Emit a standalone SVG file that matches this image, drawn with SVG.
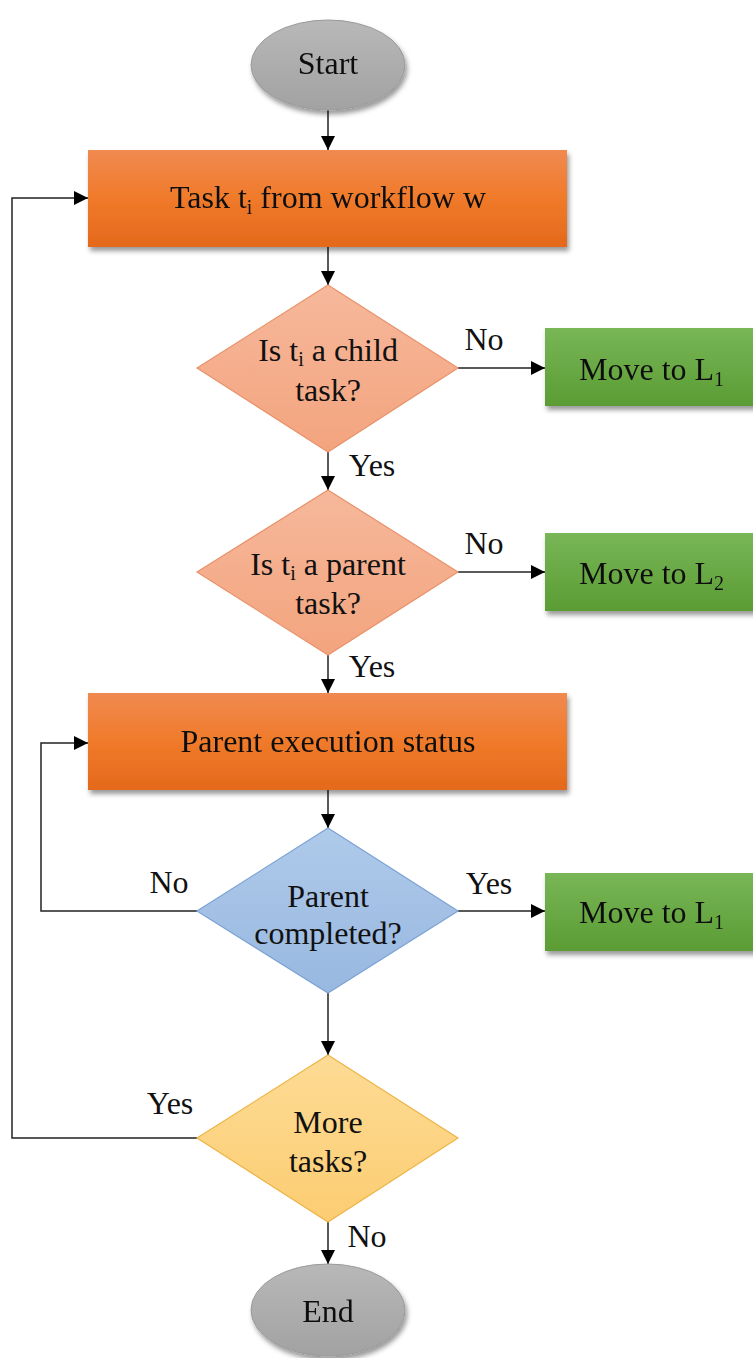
<svg xmlns="http://www.w3.org/2000/svg" width="753" height="1358" viewBox="0 0 753 1358">
  <style>
    text { font-family: "Liberation Serif", "DejaVu Serif", "Times New Roman", Times, serif; font-size: 32px; fill: #111; }
    .c { text-anchor: middle; }
    .sub { font-size: 20px; }
    .wire { fill: none; stroke: #222; stroke-width: 1.5; }
    .arr { marker-end: url(#head); }
  </style>
  <defs>
    <marker id="head" markerUnits="userSpaceOnUse" markerWidth="15" markerHeight="14" refX="14" refY="7" orient="auto">
      <path d="M0,0 L14,7 L0,14 z" fill="#000"/>
    </marker>
    <filter id="shadow" x="-10%" y="-10%" width="125%" height="135%">
      <feDropShadow dx="2" dy="4" stdDeviation="2.5" flood-color="#000" flood-opacity="0.4"/>
    </filter>
    <linearGradient id="gOrange" x1="0" y1="0" x2="0" y2="1">
      <stop offset="0" stop-color="#F08A50"/>
      <stop offset="0.5" stop-color="#F07A2A"/>
      <stop offset="1" stop-color="#E4691C"/>
    </linearGradient>
    <linearGradient id="gGreen" x1="0" y1="0" x2="0" y2="1">
      <stop offset="0" stop-color="#78B656"/>
      <stop offset="1" stop-color="#5B9C34"/>
    </linearGradient>
    <linearGradient id="gGray" x1="0" y1="0" x2="0" y2="1">
      <stop offset="0" stop-color="#B8B8B8"/>
      <stop offset="1" stop-color="#A2A2A2"/>
    </linearGradient>
    <linearGradient id="gSalmon" x1="0" y1="0" x2="0" y2="1">
      <stop offset="0" stop-color="#F6B89B"/>
      <stop offset="1" stop-color="#F3A47E"/>
    </linearGradient>
    <linearGradient id="gBlue" x1="0" y1="0" x2="0" y2="1">
      <stop offset="0" stop-color="#AFCAEA"/>
      <stop offset="1" stop-color="#98B8E0"/>
    </linearGradient>
    <linearGradient id="gYellow" x1="0" y1="0" x2="0" y2="1">
      <stop offset="0" stop-color="#FDDB95"/>
      <stop offset="1" stop-color="#FCCD72"/>
    </linearGradient>
  </defs>

  <rect width="753" height="1358" fill="#fff"/>

  <!-- connectors -->
  <g id="connectors">
    <line class="wire arr" x1="328" y1="110" x2="328" y2="150"/>
    <line class="wire arr" x1="328" y1="247" x2="328" y2="285"/>
    <line class="wire arr" x1="458" y1="368" x2="545" y2="368"/>
    <line class="wire arr" x1="328" y1="452" x2="328" y2="490"/>
    <line class="wire arr" x1="458" y1="572" x2="545" y2="572"/>
    <line class="wire arr" x1="328" y1="655" x2="328" y2="693"/>
    <line class="wire arr" x1="328" y1="790" x2="328" y2="828"/>
    <line class="wire arr" x1="458" y1="911" x2="545" y2="911"/>
    <polyline class="wire arr" points="197,911 41,911 41,743 88,743"/>
    <line class="wire arr" x1="328" y1="993" x2="328" y2="1055"/>
    <polyline class="wire arr" points="197,1138 12,1138 12,198 88,198"/>
    <line class="wire arr" x1="328" y1="1222" x2="328" y2="1264"/>
    <text x="484" y="350" class="c">No</text>
    <text x="372" y="476" class="c">Yes</text>
    <text x="484" y="554" class="c">No</text>
    <text x="372" y="677" class="c">Yes</text>
    <text x="169" y="893" class="c">No</text>
    <text x="489" y="894" class="c">Yes</text>
    <text x="170" y="1114" class="c">Yes</text>
    <text x="367" y="1247" class="c">No</text>
  </g>

  <!-- terminals -->
  <g id="start" filter="url(#shadow)">
    <ellipse cx="328" cy="65" rx="77" ry="45" fill="url(#gGray)" stroke="#9A9A9A" stroke-width="1"/>
    <text x="328" y="74" class="c">Start</text>
  </g>
  <g id="end" filter="url(#shadow)">
    <ellipse cx="328" cy="1310" rx="77" ry="46" fill="url(#gGray)" stroke="#9A9A9A" stroke-width="1"/>
    <text x="328" y="1322" class="c">End</text>
  </g>

  <!-- process boxes -->
  <g id="task" filter="url(#shadow)">
    <rect x="88" y="150" width="479" height="97" fill="url(#gOrange)"/>
    <text x="328" y="208" class="c">Task t<tspan class="sub" dy="6">i</tspan><tspan dy="-6"> from workflow w</tspan></text>
  </g>
  <g id="parent-status" filter="url(#shadow)">
    <rect x="88" y="693" width="479" height="97" fill="url(#gOrange)"/>
    <text x="328" y="752" class="c">Parent execution status</text>
  </g>

  <!-- decisions -->
  <g id="is-child">
    <polygon points="328,285 458,368 328,452 197,368" fill="url(#gSalmon)" stroke="#E8926A" stroke-width="1.2"/>
    <text x="328" y="361" class="c">Is t<tspan class="sub" dy="5">i</tspan><tspan dy="-5"> a child</tspan></text>
    <text x="328" y="401" class="c">task?</text>
  </g>
  <g id="is-parent">
    <polygon points="328,490 458,572 328,655 197,572" fill="url(#gSalmon)" stroke="#E8926A" stroke-width="1.2"/>
    <text x="328" y="575" class="c">Is t<tspan class="sub" dy="5">i</tspan><tspan dy="-5"> a parent</tspan></text>
    <text x="328" y="614" class="c">task?</text>
  </g>
  <g id="parent-completed">
    <polygon points="328,828 458,911 328,993 197,911" fill="url(#gBlue)" stroke="#7BA2D4" stroke-width="1.2"/>
    <text x="328" y="907" class="c">Parent</text>
    <text x="328" y="944" class="c">completed?</text>
  </g>
  <g id="more-tasks">
    <polygon points="328,1055 458,1138 328,1222 197,1138" fill="url(#gYellow)" stroke="#EDB445" stroke-width="1.2"/>
    <text x="328" y="1133" class="c">More</text>
    <text x="328" y="1172" class="c">tasks?</text>
  </g>

  <!-- queue targets -->
  <g id="move-l1-a" filter="url(#shadow)">
    <rect x="545" y="328" width="220" height="78" fill="url(#gGreen)"/>
    <text x="579" y="380">Move to L<tspan class="sub" dy="6">1</tspan></text>
  </g>
  <g id="move-l2" filter="url(#shadow)">
    <rect x="545" y="533" width="220" height="78" fill="url(#gGreen)"/>
    <text x="579" y="584">Move to L<tspan class="sub" dy="6">2</tspan></text>
  </g>
  <g id="move-l1-b" filter="url(#shadow)">
    <rect x="545" y="873" width="220" height="78" fill="url(#gGreen)"/>
    <text x="579" y="923">Move to L<tspan class="sub" dy="6">1</tspan></text>
  </g>
</svg>
